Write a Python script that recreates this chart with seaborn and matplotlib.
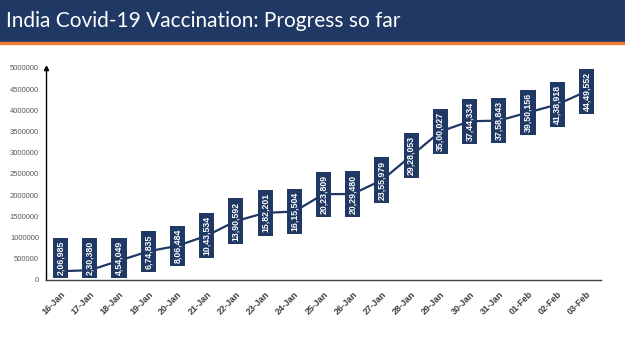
import matplotlib
matplotlib.use("Agg")
import matplotlib.pyplot as plt
import seaborn as sns
import pandas as pd

# data
dates = ["16-Jan", "17-Jan", "18-Jan", "19-Jan", "20-Jan", "21-Jan", "22-Jan", "23-Jan",
         "24-Jan", "25-Jan", "26-Jan", "27-Jan", "28-Jan", "29-Jan", "30-Jan", "31-Jan",
         "01-Feb", "02-Feb", "03-Feb"]
vaccinated = [206985, 230380, 454049, 674835, 806484, 1043534, 1390592, 1582201,
              1615504, 2023809, 2029480, 2355979, 2928053, 3500027, 3744334, 3758843,
              3950156, 4138918, 4449552]
point_labels = ["2,06,985", "2,30,380", "4,54,049", "6,74,835", "8,06,484", "10,43,534",
                "13,90,592", "15,82,201", "16,15,504", "20,23,809", "20,29,480", "23,55,979",
                "29,28,053", "35,00,027", "37,44,334", "37,58,843", "39,50,156", "41,38,918",
                "44,49,552"]
y_ticks = list(range(0, 5000001, 500000))

navy = "#1f3864"
orange = "#ed7d31"

df = pd.DataFrame({"idx": range(len(dates)), "count": vaccinated})

sns.set_style("white")
plt.rcParams["font.family"] = ["Liberation Sans", "DejaVu Sans"]

fig = plt.figure(figsize=(6.25, 3.51), dpi=100)

# header band
fig.patches.append(plt.Rectangle((0, 1 - 42 / 351), 1, 42 / 351, transform=fig.transFigure,
                                 color=navy, zorder=0))
fig.patches.append(plt.Rectangle((0, 1 - 44 / 351), 1, 2 / 351, transform=fig.transFigure,
                                 color=orange, zorder=0))
fig.text(0.009, 1 - 21 / 351, "India Covid-19 Vaccination: Progress so far", color="white",
         fontsize=15, va="center", ha="left", family=["Lato", "DejaVu Sans"])

ax = fig.add_axes([46 / 625, 1 - 280 / 351, 555 / 625, 212 / 351])
sns.lineplot(data=df, x="idx", y="count", ax=ax, color=navy, linewidth=1.6)

labels = []
for i, (v, lab) in enumerate(zip(vaccinated, point_labels)):
    t = ax.text(i, v, lab, rotation=90, ha="center", va="center", color="white",
                fontsize=6.3, fontweight="bold",
                bbox=dict(boxstyle="square,pad=0.35", facecolor=navy, edgecolor="none"))
    labels.append(t)

ax.set_xlim(-0.5, len(dates) - 0.5)
ax.set_ylim(0, 5000000)
ax.set_yticks(y_ticks)
ax.set_yticklabels([str(t) for t in y_ticks], fontsize=5.5, color="#595959")
ax.set_xticks(range(len(dates)))
ax.set_xticklabels(dates, rotation=45, ha="right", rotation_mode="anchor",
                   fontsize=6.5, fontweight="bold", color="#404040")
ax.set_xticks([i - 0.5 for i in range(len(dates) + 1)], minor=True)
ax.tick_params(axis="x", which="major", length=0, pad=7)
ax.tick_params(axis="x", which="minor", length=3, width=0.8, color="#404040", direction="out")
ax.tick_params(axis="y", length=0, pad=5)
ax.set_xlabel("")
ax.set_ylabel("")

for side in ["top", "right"]:
    ax.spines[side].set_visible(False)
ax.spines["left"].set_color("black")
ax.spines["left"].set_linewidth(1)
ax.spines["bottom"].set_color("#404040")
ax.spines["bottom"].set_linewidth(1)
ax.plot(0, 1, marker="^", color="black", markersize=3, transform=ax.transAxes, clip_on=False)

# keep label boxes inside the plot area, like the original chart
fig.canvas.draw()
renderer = fig.canvas.get_renderer()
ax_bottom = ax.get_window_extent(renderer).y0
for t in labels:
    box = t.get_bbox_patch().get_window_extent(renderer)
    if box.y0 < ax_bottom + 2:
        shift = ax_bottom + 2 - box.y0
        x_disp, y_disp = ax.transData.transform(t.get_position())
        t.set_position(ax.transData.inverted().transform((x_disp, y_disp + shift)))

fig.savefig("out.png", dpi=100)
